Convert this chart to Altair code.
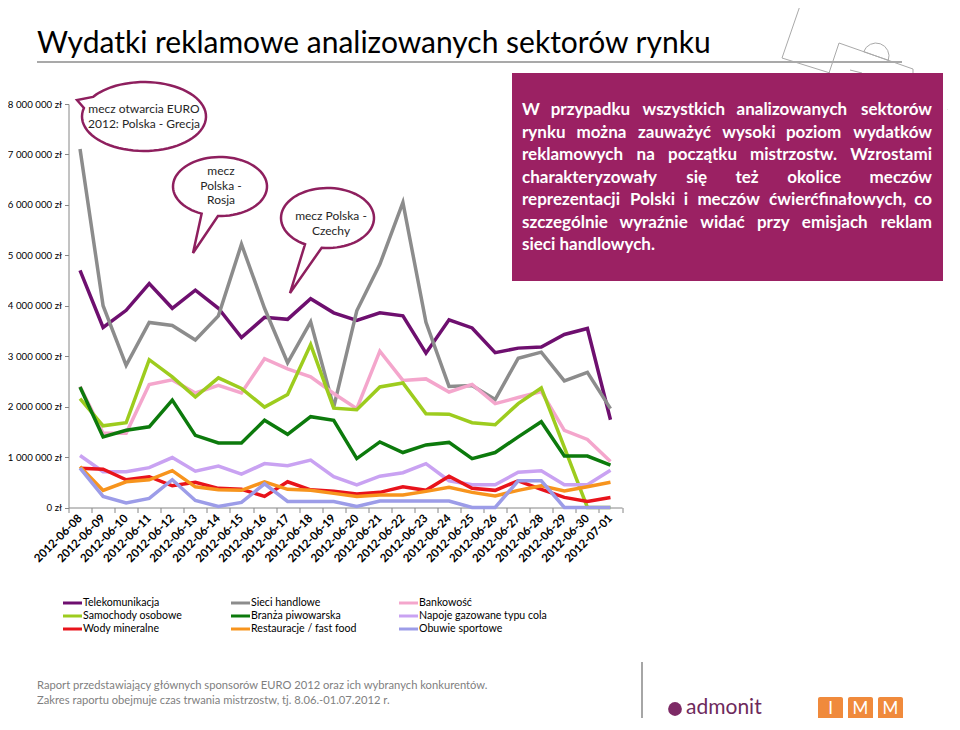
import math
import altair as alt
import pandas as pd

# ---------------- data ----------------
dates = ["2012-06-08", "2012-06-09", "2012-06-10", "2012-06-11", "2012-06-12", "2012-06-13",
         "2012-06-14", "2012-06-15", "2012-06-16", "2012-06-17", "2012-06-18", "2012-06-19",
         "2012-06-20", "2012-06-21", "2012-06-22", "2012-06-23", "2012-06-24", "2012-06-25",
         "2012-06-26", "2012-06-27", "2012-06-28", "2012-06-29", "2012-06-30", "2012-07-01"]

# values in millions of zł
telekomunikacja = [4.70, 3.57, 3.91, 4.44, 3.95, 4.31, 3.95, 3.37, 3.77, 3.73, 4.14, 3.86,
                   3.71, 3.86, 3.80, 3.06, 3.72, 3.56, 3.07, 3.16, 3.18, 3.43, 3.55, 1.74]
sieci_handlowe = [7.11, 4.00, 2.82, 3.67, 3.61, 3.32, 3.80, 5.22, 3.95, 2.87, 3.68, 1.99,
                  3.90, 4.82, 6.05, 3.67, 2.40, 2.42, 2.14, 2.96, 3.08, 2.51, 2.68, 1.96]
bankowosc = [2.40, 1.47, 1.47, 2.44, 2.53, 2.27, 2.42, 2.27, 2.95, 2.75, 2.59, 2.26,
             1.96, 3.10, 2.52, 2.55, 2.29, 2.44, 2.06, 2.18, 2.30, 1.53, 1.35, 0.91]
samochody = [2.16, 1.62, 1.68, 2.93, 2.59, 2.19, 2.57, 2.36, 1.99, 2.24, 3.23, 1.97,
             1.94, 2.39, 2.47, 1.86, 1.85, 1.68, 1.64, 2.06, 2.37, 1.19, 0.0, 0.0]
piwowarska = [2.39, 1.40, 1.53, 1.60, 2.13, 1.43, 1.28, 1.28, 1.73, 1.45, 1.80, 1.73,
              0.97, 1.30, 1.09, 1.24, 1.29, 0.97, 1.09, 1.40, 1.70, 1.02, 1.02, 0.84]
napoje = [1.03, 0.71, 0.71, 0.79, 0.99, 0.72, 0.82, 0.66, 0.87, 0.83, 0.94, 0.61,
          0.45, 0.62, 0.69, 0.87, 0.53, 0.45, 0.45, 0.70, 0.73, 0.45, 0.45, 0.74]
wody = [0.78, 0.76, 0.55, 0.61, 0.43, 0.50, 0.38, 0.36, 0.22, 0.51, 0.35, 0.32,
        0.27, 0.30, 0.41, 0.34, 0.62, 0.38, 0.34, 0.53, 0.36, 0.20, 0.12, 0.20]
restauracje = [0.81, 0.34, 0.51, 0.55, 0.73, 0.41, 0.35, 0.34, 0.51, 0.36, 0.34, 0.28,
               0.22, 0.25, 0.25, 0.32, 0.40, 0.30, 0.23, 0.34, 0.43, 0.33, 0.41, 0.50]
obuwie = [0.78, 0.22, 0.09, 0.18, 0.55, 0.14, 0.02, 0.10, 0.47, 0.12, 0.12, 0.12,
          0.02, 0.13, 0.13, 0.13, 0.13, 0.0, 0.0, 0.53, 0.53, 0.0, 0.0, 0.0]

series_names = ["Telekomunikacja", "Sieci handlowe", "Bankowość",
                "Samochody osobowe", "Branża piwowarska", "Napoje gazowane typu cola",
                "Wody mineralne", "Restauracje / fast food", "Obuwie sportowe"]
series_values = [telekomunikacja, sieci_handlowe, bankowosc, samochody, piwowarska,
                 napoje, wody, restauracje, obuwie]
series_colors = ["#6e0f6f", "#8c8c8c", "#f4a6cc", "#9dcc1e", "#0c7a0c",
                 "#c9a2f2", "#e8131b", "#f7941d", "#9c9ce8"]

title_text = "Wydatki reklamowe analizowanych sektorów rynku"
box_lines = ["W przypadku wszystkich analizowanych sektorów",
             "rynku można zauważyć wysoki poziom wydatków",
             "reklamowych na początku mistrzostw. Wzrostami",
             "charakteryzowały się też okolice meczów",
             "reprezentacji Polski i meczów ćwierćfinałowych, co",
             "szczególnie wyraźnie widać przy emisjach reklam",
             "sieci handlowych."]
bubble_texts = [["mecz otwarcia EURO", "2012: Polska - Grecja"],
                ["mecz", "Polska -", "Rosja"],
                ["mecz Polska -", "Czechy"]]
footer_lines = ["Raport przedstawiający głównych sponsorów EURO 2012 oraz ich wybranych konkurentów.",
                "Zakres raportu obejmuje czas trwania mistrzostw, tj. 8.06.-01.07.2012 r."]

# ---------------- layout ----------------
OX, OY = 68.5, 104.0           # page position of plot origin
PW, PH = 553.5, 403.5
PAD = {"left": OX - 8, "top": OY - 8, "right": 940 - (OX - 8) - PW, "bottom": 710 - (OY - 8) - PH}

FONT = "Lato"
PURPLE_BOX = "#9b2163"
BUBBLE = "#8e1f5e"


def px(X):
    return X - OX


def py(Y):
    return Y - OY


XI = alt.X("px:Q", scale=None, axis=None)
YI = alt.Y("py:Q", scale=None, axis=None)

# ---------------- main lines ----------------
rows = []
for name, vals in zip(series_names, series_values):
    for d, v in zip(dates, vals):
        rows.append({"date": d, "series": name, "value": v})
df = pd.DataFrame(rows)

color_scale = alt.Scale(domain=series_names, range=series_colors)

lines = alt.Chart(df).mark_line(strokeWidth=3.5).encode(
    x=alt.X("date:O", sort=dates,
            scale=alt.Scale(type="band", paddingInner=0, paddingOuter=0),
            axis=alt.Axis(title=None, labelAngle=-45, labelAlign="right", labelBaseline="middle",
                          tickBand="extent", tickSize=5, labelPadding=4, labelFont=FONT,
                          labelFontWeight="bold", labelFontSize=11.5, labelColor="#000000",
                          domainColor="#868686", tickColor="#868686", grid=False,
                          labelOverlap=False)),
    y=alt.Y("value:Q", scale=alt.Scale(domain=[0, 8], nice=False, zero=True),
            axis=alt.Axis(title=None, values=list(range(9)), grid=False, tickSize=4,
                          labelPadding=3, labelFont=FONT, labelFontSize=9.7, labelColor="#000000",
                          domainColor="#868686", tickColor="#868686",
                          labelExpr="datum.value == 0 ? '0 zł' : datum.value + ' 000 000 zł'")),
    color=alt.Color("series:N", scale=color_scale, legend=None),
)

# ---------------- decorations ----------------
deco = pd.DataFrame([
    {"x1": 37, "y1": 62, "x2": 902, "y2": 62, "w": 1.8},
    {"x1": 802, "y1": 0, "x2": 782, "y2": 58, "w": 1},
    {"x1": 782, "y1": 58, "x2": 830, "y2": 73, "w": 1},
    {"x1": 839, "y1": 43, "x2": 829, "y2": 73, "w": 1},
    {"x1": 839, "y1": 43, "x2": 913, "y2": 69, "w": 1},
    {"x1": 913, "y1": 69, "x2": 913, "y2": 73, "w": 1},
    {"x1": 850, "y1": 70, "x2": 862, "y2": 73, "w": 1},
    {"x1": 958, "y1": 84, "x2": 948, "y2": 110, "w": 1},
])
deco["px"] = deco["x1"] - OX
deco["px2"] = deco["x2"] - OX
deco["py"] = deco["y1"] - OY
deco["py2"] = deco["y2"] - OY
deco_layer = alt.Chart(deco).mark_rule(color="#a9a9a9").encode(
    x=XI, x2="px2:Q", y=YI, y2="py2:Q", strokeWidth=alt.StrokeWidth("w:Q", scale=None))

arc_df = pd.DataFrame([{"px": px(876), "py": py(56)}])
arc_layer = alt.Chart(arc_df).mark_arc(theta=5.05, theta2=8.19, radius=13, fillOpacity=0,
                                       stroke="#a9a9a9", strokeWidth=1).encode(x=XI, y=YI)

# ---------------- title ----------------
title_df = pd.DataFrame([{"px": px(37), "py": py(44), "t": title_text}])
title_layer = alt.Chart(title_df).mark_text(align="left", baseline="middle", font=FONT,
                                            fontSize=30, color="#000000").encode(x=XI, y=YI, text="t:N")

# ---------------- purple text box ----------------
box_df = pd.DataFrame([{"px": px(512), "px2": px(943), "py": py(73), "py2": py(281)}])
box_layer = alt.Chart(box_df).mark_rect(color=PURPLE_BOX).encode(x=XI, x2="px2:Q", y=YI, y2="py2:Q")

CW = {'a': 0.53, 'b': 0.57, 'c': 0.46, 'd': 0.57, 'e': 0.53, 'f': 0.34, 'g': 0.51, 'h': 0.57,
      'i': 0.25, 'j': 0.25, 'k': 0.53, 'l': 0.25, 'm': 0.85, 'n': 0.57, 'o': 0.57, 'p': 0.57,
      'r': 0.38, 's': 0.43, 't': 0.37, 'u': 0.57, 'w': 0.80, 'y': 0.52, 'z': 0.46, 'ą': 0.53,
      'ć': 0.46, 'ę': 0.53, 'ł': 0.29, 'ń': 0.57, 'ó': 0.57, 'ś': 0.43, 'ź': 0.46, 'ż': 0.46,
      'W': 0.98, 'P': 0.59, 'S': 0.50, '.': 0.23, ',': 0.23}
BOX_FS = 17
BOX_L, BOX_R = 522, 932
line_y = [110, 132.5, 155, 177.5, 200, 222.5, 245]
left_words, right_words = [], []
for li, (ln, yy) in enumerate(zip(box_lines, line_y)):
    words = ln.split(" ")
    if li == len(box_lines) - 1:
        left_words.append({"px": px(BOX_L), "py": py(yy), "t": ln})
        continue
    widths = [sum(CW.get(c, 0.55) for c in w) * BOX_FS for w in words]
    gap = max(4.0, (BOX_R - BOX_L - sum(widths)) / (len(words) - 1))
    xx = BOX_L
    for wi, (w, wd) in enumerate(zip(words, widths)):
        if wi == len(words) - 1:
            right_words.append({"px": px(BOX_R), "py": py(yy), "t": w})
        else:
            left_words.append({"px": px(xx), "py": py(yy), "t": w})
        xx += wd + gap
box_text_l = alt.Chart(pd.DataFrame(left_words)).mark_text(
    align="left", baseline="middle", font=FONT, fontWeight="bold", fontSize=BOX_FS,
    color="white").encode(x=XI, y=YI, text="t:N")
box_text_r = alt.Chart(pd.DataFrame(right_words)).mark_text(
    align="right", baseline="middle", font=FONT, fontWeight="bold", fontSize=BOX_FS,
    color="white").encode(x=XI, y=YI, text="t:N")


# ---------------- speech bubbles ----------------
def bubble_path(k, th1, th2, tip, n=72):
    pts = []
    for j in range(n + 1):
        t = math.radians(th1 + (th2 - th1) * j / n)
        pts.append((math.cos(t), k * math.sin(t)))
    pts.append(tip)
    return "M " + " L ".join(f"{a:.4f} {b:.4f}" for a, b in pts) + " Z"


bubbles = pd.DataFrame([
    {"px": px(144), "py": py(116.5), "size": 4 * 62 ** 2,
     "path": bubble_path(0.556, 214.6, 554.3, (-1.08, -0.266))},
    {"px": px(220), "py": py(186.5), "size": 4 * 47 ** 2,
     "path": bubble_path(0.628, 113.0, 452.5, (-0.574, 1.415))},
    {"px": px(327.5), "py": py(218), "size": 4 * 46.5 ** 2,
     "path": bubble_path(0.645, 118.9, 457.2, (-0.806, 1.613))},
])
bubble_layer = alt.Chart(bubbles).mark_point(filled=True, fill="white", stroke=BUBBLE,
                                             strokeWidth=2.5, opacity=1, fillOpacity=1).encode(
    x=XI, y=YI, shape=alt.Shape("path:N", scale=None), size=alt.Size("size:Q", scale=None))

bubble_pos = [(144, [109, 124]), (221, [171, 185.5, 200]), (331, [216, 231])]
btext = []
for lines_t, (bx, ys) in zip(bubble_texts, bubble_pos):
    for t, yy in zip(lines_t, ys):
        btext.append({"px": px(bx), "py": py(yy), "t": t})
bubble_text_layer = alt.Chart(pd.DataFrame(btext)).mark_text(
    align="center", baseline="middle", font=FONT, fontSize=12, color="#262626").encode(
    x=XI, y=YI, text="t:N")

# ---------------- legend ----------------
leg_col_x = [63, 231, 399]
leg_row_y = [603, 616, 629]
leg = []
for i, name in enumerate(series_names):
    cx = leg_col_x[i % 3]
    cy = leg_row_y[i // 3]
    leg.append({"series": name, "px": px(cx), "px2": px(cx + 19), "py": py(cy),
                "tx": px(cx + 20), "t": name})
leg_df = pd.DataFrame(leg)
leg_lines = alt.Chart(leg_df).mark_rule(strokeWidth=3).encode(
    x=XI, x2="px2:Q", y=YI, color=alt.Color("series:N", scale=color_scale, legend=None))
leg_text = alt.Chart(leg_df).mark_text(align="left", baseline="middle", font=FONT,
                                       fontSize=10.6, color="#000000").encode(
    x=alt.X("tx:Q", scale=None, axis=None), y=YI, text="t:N")

# ---------------- footer + logos ----------------
foot_df = pd.DataFrame([{"px": px(37), "py": py(686), "t": footer_lines[0]},
                        {"px": px(37), "py": py(701), "t": footer_lines[1]}])
foot_layer = alt.Chart(foot_df).mark_text(align="left", baseline="middle", font=FONT,
                                          fontSize=11.2, color="#7f7f7f").encode(
    x=XI, y=YI, text="t:N")

div_df = pd.DataFrame([{"px": px(642), "py": py(662), "py2": py(730)}])
div_layer = alt.Chart(div_df).mark_rule(color="#a6a6a6", strokeWidth=2).encode(
    x=XI, y=YI, y2="py2:Q")

adm_icon = alt.Chart(pd.DataFrame([{"px": px(675), "py": py(709)}])).mark_point(
    filled=True, shape="circle", size=190, color="#7d2a66", opacity=1).encode(x=XI, y=YI)
adm_text = alt.Chart(pd.DataFrame([{"px": px(686), "py": py(708), "t": "admonit"}])).mark_text(
    align="left", baseline="middle", font=FONT, fontSize=21, color="#6e2a5c").encode(
    x=XI, y=YI, text="t:N")

imm_df = pd.DataFrame([
    {"px": px(818), "px2": px(843), "py": py(697), "py2": py(721), "cx": px(830.5), "cy": py(709), "t": "I"},
    {"px": px(848), "px2": px(873), "py": py(697), "py2": py(721), "cx": px(860.5), "cy": py(709), "t": "M"},
    {"px": px(878), "px2": px(903), "py": py(697), "py2": py(721), "cx": px(890.5), "cy": py(709), "t": "M"},
])
imm_rect = alt.Chart(imm_df).mark_rect(color="#f08a3c", cornerRadius=2).encode(
    x=XI, x2="px2:Q", y=YI, y2="py2:Q")
imm_text = alt.Chart(imm_df).mark_text(align="center", baseline="middle", font=FONT,
                                       fontSize=17, color="white").encode(
    x=alt.X("cx:Q", scale=None, axis=None), y=alt.Y("cy:Q", scale=None, axis=None), text="t:N")

chart = alt.layer(
    deco_layer, arc_layer, title_layer, box_layer, box_text_l, box_text_r,
    lines, bubble_layer, bubble_text_layer, leg_lines, leg_text,
    foot_layer, div_layer, adm_icon, adm_text, imm_rect, imm_text,
).resolve_scale(x="independent", y="independent").properties(
    width=PW, height=PH, autosize=alt.AutoSizeParams(type="none"), padding=PAD,
    background="white",
).configure_view(stroke=None)

chart.save("out.html", embed_options={"renderer": "svg", "actions": False})
